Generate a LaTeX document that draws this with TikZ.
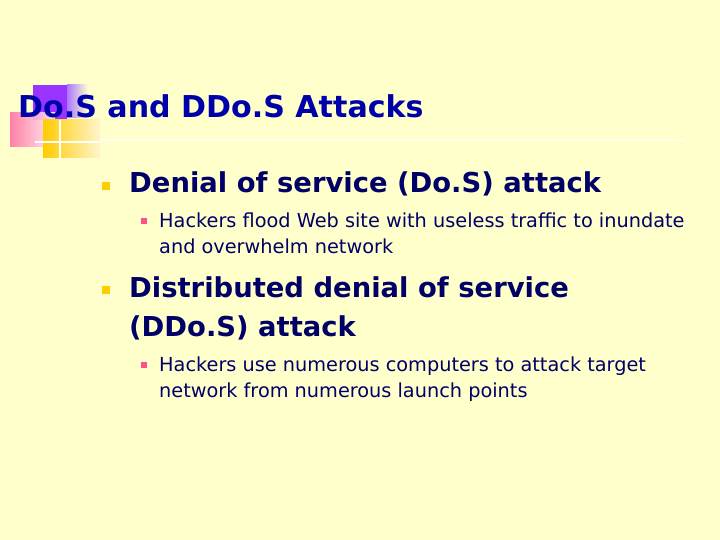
\documentclass[tikz,border=0pt]{standalone}
\usepackage{fontspec}
\setmainfont{DejaVu Sans}
\begin{document}
\begin{tikzpicture}[x=1pt,y=-1pt,
  bl/.style={anchor=base west,inner sep=0pt,text=navyt,font=\bfseries\fontsize{27.4}{32}\selectfont},
  bs/.style={anchor=base west,inner sep=0pt,text=navyt,font=\fontsize{19.3}{26}\selectfont},
  ttl/.style={anchor=base west,inner sep=0pt,text=titlet,font=\bfseries\fontsize{30.1}{36}\selectfont}]
\definecolor{bgc}{RGB}{255,255,204}
\definecolor{navyt}{RGB}{0,0,102}
\definecolor{titlet}{RGB}{0,0,170}
\definecolor{purp}{RGB}{153,51,255}
\definecolor{viol}{RGB}{170,120,255}
\definecolor{pinkc}{RGB}{255,80,140}
\definecolor{yel}{RGB}{255,204,0}
\fill[bgc] (0,0) rectangle (720,540);
% logo
\fill[purp] (33,85) rectangle (67,120);
\shade[left color=viol, right color=bgc] (67,85) rectangle (88,118);
\shade[left color=pinkc!80, right color=pinkc!10, opacity=0.9] (10,113) rectangle (55,147);
\shade[left color=yel, right color=yel!20] (43,120) rectangle (100,158);
\draw[white, line width=1.5pt] (35,142) -- (100,142);
\draw[white, line width=1.5pt] (60,120) -- (60,158);
\draw[white!70!bgc, line width=1.5pt] (100,140) -- (685,140);
\node[ttl] (t) at (18,118) {Do.S and DDo.S Attacks};
% bullets
\fill[yel] (102,182) rectangle (110,190);
\node[bl] (a) at (129,193) {Denial of service (Do.S) attack};
\fill[pinkc] (141,218) rectangle (147,224);
\node[bs] (a1) at (159,227) {Hackers flood Web site with useless traffic to inundate};
\node[bs] (a2) at (159,253) {and overwhelm network};
\fill[yel] (102,286) rectangle (110,294);
\node[bl] (b) at (129,297) {Distributed denial of service};
\node[bl] (b2) at (129,336) {(DDo.S) attack};
\fill[pinkc] (141,362) rectangle (147,368);
\node[bs] (b3) at (159,371) {Hackers use numerous computers to attack target};
\node[bs] (b4) at (159,397) {network from numerous launch points};
\end{tikzpicture}
\end{document}
